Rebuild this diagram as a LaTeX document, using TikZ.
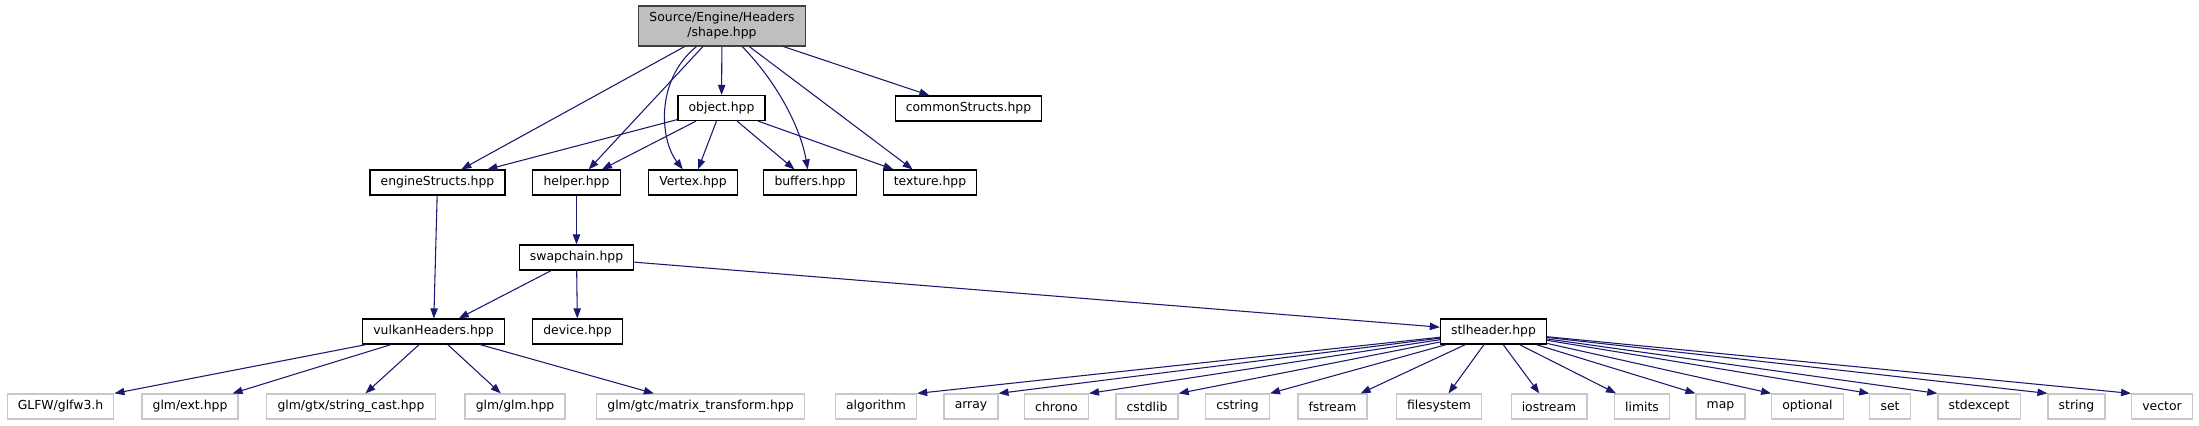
\documentclass[tikz,border=0pt]{standalone}
\usepackage{fontspec}
\setmainfont{DejaVu Sans}
\usetikzlibrary{arrows.meta}
\definecolor{edgeblue}{HTML}{191970}
\definecolor{extgray}{HTML}{C8C8C8}
\definecolor{rootfill}{HTML}{BFBFBF}
\definecolor{rootline}{HTML}{404040}

\begin{document}
\begin{tikzpicture}[
  x=0.75pt, y=-0.75pt,
  >={Triangle[length=7.5pt, width=5.5pt]},
  hdr/.style={draw=black, line width=0.9pt, fill=white, minimum height=18.75pt,
    inner xsep=8pt, inner ysep=2pt, font=\fontsize{9.3}{11.3}\selectfont},
  syshdr/.style={hdr, draw=extgray},
  root/.style={hdr, draw=rootline, fill=rootfill, minimum height=30pt, align=center},
  dep/.style={->, edgeblue, line width=0.8pt},
]

% Background
\fill[white] (0,0) rectangle (2199,425);
\useasboundingbox (0,0) rectangle (2199,425);

% =============================================
% Project headers
% =============================================
\node[root] (shape) at (722,26) {Source/Engine/Headers\\/shape.hpp};

\node[hdr] (object) at (721.5,108) {object.hpp};
\node[hdr] (common) at (968.5,108.5) {commonStructs.hpp};

\node[hdr] (engine) at (437.5,182.5) {engineStructs.hpp};
\node[hdr] (helper) at (576.5,182.5) {helper.hpp};
\node[hdr] (vertex) at (693,182.5) {Vertex.hpp};
\node[hdr] (buffers) at (810,182.5) {buffers.hpp};
\node[hdr] (texture) at (930,182.5) {texture.hpp};

\node[hdr] (swapchain) at (576.5,257.5) {swapchain.hpp};

\node[hdr] (vulkan) at (433.5,331.5) {vulkanHeaders.hpp};
\node[hdr] (device) at (577.5,331.5) {device.hpp};
\node[hdr] (stl) at (1493.5,331.5) {stlheader.hpp};

% =============================================
% External headers (bottom row)
% =============================================
\node[syshdr] (glfw) at (60.5,406.5) {GLFW/glfw3.h};
\node[syshdr] (glmext) at (190,406.5) {glm/ext.hpp};
\node[syshdr] (strcast) at (351,406.5) {glm/gtx/string\_cast.hpp};
\node[syshdr] (glm) at (515,406.5) {glm/glm.hpp};
\node[syshdr] (matrix) at (700.5,406.5) {glm/gtc/matrix\_transform.hpp};

\node[syshdr] (algorithm) at (876,406.5) {algorithm};
\node[syshdr] (array) at (971,406.5) {array};
\node[syshdr] (chrono) at (1056.5,406.5) {chrono};
\node[syshdr] (cstdlib) at (1147,406.5) {cstdlib};
\node[syshdr] (cstring) at (1237.5,406.5) {cstring};
\node[syshdr] (fstream) at (1332.5,406.5) {fstream};
\node[syshdr] (filesystem) at (1439,406.5) {filesystem};
\node[syshdr] (iostream) at (1549,406.5) {iostream};
\node[syshdr] (limits) at (1642,406.5) {limits};
\node[syshdr] (map) at (1720.5,406.5) {map};
\node[syshdr] (optional) at (1807.5,406.5) {optional};
\node[syshdr] (set) at (1890,406.5) {set};
\node[syshdr] (stdexcept) at (1979,406.5) {stdexcept};
\node[syshdr] (string) at (2076.5,406.5) {string};
\node[syshdr] (vector) at (2162,406.5) {vector};

% =============================================
% shape.hpp includes
% =============================================
\draw[dep] (shape) -- (engine);
\draw[dep] (shape) -- (helper);
\draw[dep] (shape) .. controls (655,80) and (660,140) .. (vertex);
\draw[dep] (shape) -- (object);
\draw[dep] (shape) .. controls (775,80) and (800,125) .. (buffers);
\draw[dep] (shape) -- (texture);
\draw[dep] (shape) -- (common);

% object.hpp includes
\draw[dep] (object) -- (engine);
\draw[dep] (object) -- (helper);
\draw[dep] (object) -- (vertex);
\draw[dep] (object) -- (buffers);
\draw[dep] (object) -- (texture);

% Second level
\draw[dep] (engine) -- (vulkan);
\draw[dep] (helper) -- (swapchain);
\draw[dep] (swapchain) -- (vulkan);
\draw[dep] (swapchain) -- (device);
\draw[dep] (swapchain) -- (stl);

% vulkanHeaders.hpp includes
\draw[dep] (vulkan) -- (glfw.north east);
\draw[dep] (vulkan) -- (glmext);
\draw[dep] (vulkan) -- (strcast);
\draw[dep] (vulkan) -- (glm);
\draw[dep] (vulkan) -- (matrix);

% stlheader.hpp includes
\draw[dep] (stl) -- (algorithm.north east);
\draw[dep] (stl) -- (array.north east);
\draw[dep] (stl) -- (chrono.north east);
\draw[dep] (stl) -- (cstdlib.north east);
\draw[dep] (stl) -- (cstring.north east);
\draw[dep] (stl) -- (fstream);
\draw[dep] (stl) -- (filesystem);
\draw[dep] (stl) -- (iostream);
\draw[dep] (stl) -- (limits);
\draw[dep] (stl) -- (map.north west);
\draw[dep] (stl) -- (optional.north west);
\draw[dep] (stl) -- (set.north west);
\draw[dep] (stl) -- (stdexcept.north west);
\draw[dep] (stl) -- (string.north west);
\draw[dep] (stl) -- (vector.north west);

\end{tikzpicture}
\end{document}
